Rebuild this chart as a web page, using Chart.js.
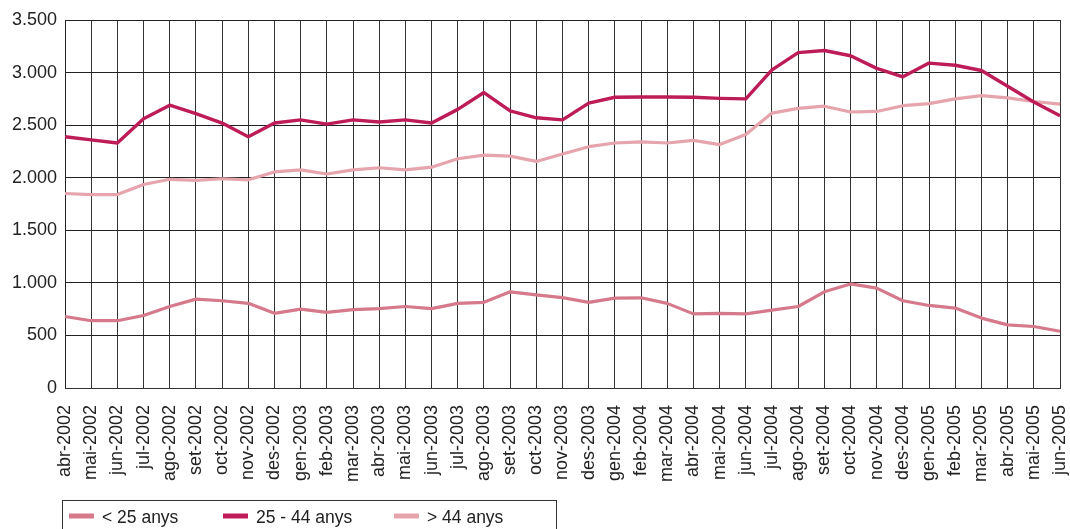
<!DOCTYPE html>
<html><head><meta charset="utf-8">
<script src="https://cdn.jsdelivr.net/npm/chart.js@4.4.0/dist/chart.umd.min.js"></script>
<style>html,body{margin:0;padding:0;background:#fff;overflow:hidden}#wrap{width:1070px;height:529px;position:relative}</style>
</head><body><div id="wrap"><canvas id="c" width="1070" height="529"></canvas></div>
<script>
const categories = ["abr-2002","mai-2002","jun-2002","jul-2002","ago-2002","set-2002","oct-2002","nov-2002","des-2002",
  "gen-2003","feb-2003","mar-2003","abr-2003","mai-2003","jun-2003","jul-2003","ago-2003","set-2003","oct-2003","nov-2003","des-2003",
  "gen-2004","feb-2004","mar-2004","abr-2004","mai-2004","jun-2004","jul-2004","ago-2004","set-2004","oct-2004","nov-2004","des-2004",
  "gen-2005","feb-2005","mar-2005","abr-2005","mai-2005","jun-2005"];
const seriesLabels = ["< 25 anys","25 - 44 anys","> 44 anys"];
const under25 = [680,640,640,690,775,845,830,805,710,750,720,745,755,775,755,805,815,915,885,860,815,855,858,805,705,710,705,740,775,915,990,950,830,785,760,665,600,585,540];
const age25to44 = [2390,2360,2330,2560,2690,2610,2520,2390,2520,2550,2510,2550,2530,2550,2520,2650,2810,2635,2570,2550,2710,2765,2768,2768,2765,2755,2750,3025,3190,3210,3160,3040,2960,3090,3070,3020,2870,2720,2590];
const over44 = [1850,1840,1840,1935,1985,1975,1990,1980,2055,2075,2035,2075,2095,2075,2100,2180,2215,2205,2155,2225,2295,2330,2340,2330,2355,2315,2410,2615,2660,2680,2625,2630,2685,2705,2750,2780,2760,2725,2700];
const yMin = 0, yMax = 3500, yStep = 500;

const colors = ["#d5798b","#be1c58","#e6a4ad"];
const fmt = v => String(v).replace(/\B(?=(\d{3})+(?!\d))/g, ".");
const FONT = "'Liberation Sans', Arial, sans-serif";

const legendBox = {
  id: "legendBox",
  afterDraw(chart) {
    const ctx = chart.ctx;
    ctx.save();
    ctx.strokeStyle = "#333";
    ctx.lineWidth = 1;
    ctx.strokeRect(62.5, 500.5, 494, 40);
    const cols = [69, 223, 394];
    ctx.font = "17.5px " + FONT;
    ctx.textBaseline = "middle";
    chart.data.datasets.forEach((ds, i) => {
      ctx.strokeStyle = ds.borderColor;
      ctx.lineWidth = 5;
      ctx.beginPath();
      ctx.moveTo(cols[i], 516);
      ctx.lineTo(cols[i] + 25, 516);
      ctx.stroke();
      ctx.fillStyle = "#222";
      ctx.fillText(ds.label, cols[i] + 33, 518);
    });
    ctx.restore();
  }
};

new Chart(document.getElementById("c"), {
  type: "line",
  data: {
    labels: categories,
    datasets: [
      { label: seriesLabels[0], data: under25, borderColor: colors[0], borderWidth: 3.2 },
      { label: seriesLabels[1], data: age25to44, borderColor: colors[1], borderWidth: 3.4 },
      { label: seriesLabels[2], data: over44, borderColor: colors[2], borderWidth: 3.2 }
    ]
  },
  options: {
    responsive: false,
    animation: false,
    devicePixelRatio: 1,
    layout: { padding: { top: 20, right: 10, left: 0, bottom: 0 } },
    elements: { point: { radius: 0 }, line: { tension: 0, borderJoinStyle: "round" } },
    plugins: { legend: { display: false }, tooltip: { enabled: false } },
    scales: {
      x: {
        offset: false,
        grid: { color: "#333", lineWidth: 1, drawTicks: false },
        border: { color: "#333" },
        ticks: { autoSkip: false, minRotation: 90, maxRotation: 90, padding: 17, color: "#222",
                 font: { family: FONT, size: 18 } },
        afterFit: s => { s.height = 141; s.paddingRight = 0; s.paddingLeft = 0; }
      },
      y: {
        min: yMin, max: yMax,
        grid: { color: "#222", lineWidth: 1, drawTicks: false },
        border: { color: "#222" },
        ticks: { stepSize: yStep, padding: 8, color: "#222", callback: v => fmt(v),
                 font: { family: FONT, size: 18 } },
        afterFit: s => { s.width = 65; }
      }
    }
  },
  plugins: [legendBox]
});
</script></body></html>
